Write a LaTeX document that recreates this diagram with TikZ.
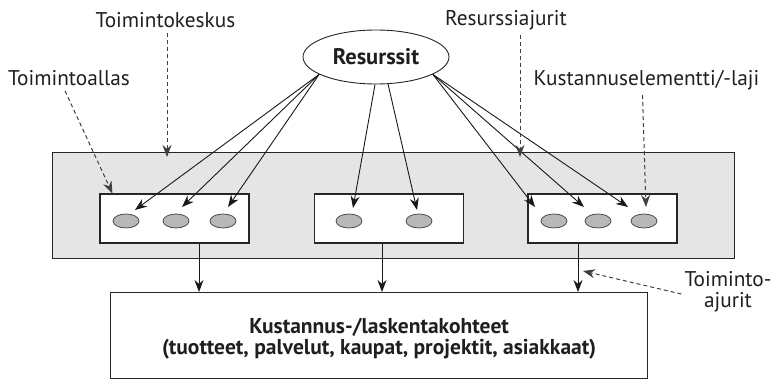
\documentclass[tikz,border=0pt]{standalone}
\usepackage{fontspec}
\setmainfont{PT Sans}
\usetikzlibrary{arrows.meta,shapes.geometric}
\begin{document}
\begin{tikzpicture}[x=1pt,y=-1pt,
  lbl/.style={font=\fontsize{21.3}{21}\selectfont, text=black!88, inner sep=0pt},
  smallell/.style={ellipse, draw=black!70, fill=black!28, minimum width=26pt, minimum height=14pt, inner sep=0pt, line width=0.8pt},
  pool/.style={rectangle, draw=black!85, fill=white, line width=1.2pt, minimum width=149pt, minimum height=49pt, inner sep=0pt},
  arr/.style={-{Stealth[length=12pt,width=9pt]}, line width=0.9pt, draw=black!90},
  darr/.style={-{Stealth[length=12pt,width=9pt]}, line width=1pt, dash pattern=on 4pt off 3pt, draw=black!75},
]
\useasboundingbox (0,0) rectangle (772,379);

% activity centre
\node[rectangle, draw=black!85, fill=black!10, line width=1.2pt, minimum width=682pt, minimum height=106pt, inner sep=0pt, anchor=north west] (centre) at (52,152) {};

% activity pools
\node[pool] (p1) at (174.5,218.5) {};
\node[pool] (p2) at (389,218.5) {};
\node[pool] (p3) at (602.5,218.5) {};

% cost elements
\node[smallell] (e11) at (126,221) {};
\node[smallell] (e12) at (176,221) {};
\node[smallell] (e13) at (223,221) {};
\node[smallell] (e21) at (349,221) {};
\node[smallell] (e22) at (419,221) {};
\node[smallell] (e31) at (554,221) {};
\node[smallell] (e32) at (598,221) {};
\node[smallell] (e33) at (644,221) {};

% resources
\node[ellipse, draw=black!85, fill=white, line width=0.9pt, minimum width=146pt, minimum height=54pt, inner sep=0pt, font=\fontsize{22.5}{22}\selectfont\bfseries, text=black!88] (res) at (376,57) {Resurssit};

% cost objects
\node[rectangle, draw=black!85, fill=white, line width=1.2pt, minimum width=537pt, minimum height=86pt, inner sep=0pt, anchor=north west] (tgt) at (110,292) {};
\node[font=\fontsize{21.5}{20.5}\selectfont\bfseries, text=black!88, align=center, inner sep=0pt] (tgttxt) at ([yshift=-3pt]tgt.center) {Kustannus-/laskentakohteet\\(tuotteet, palvelut, kaupat, projektit, asiakkaat)};

% resource drivers
\draw[arr] (res.197) -- ([xshift=9pt,yshift=11pt]e11.center);
\draw[arr] (res.197) -- ([xshift=6pt,yshift=14pt]e12.center);
\draw[arr] (res.197) -- ([xshift=5pt,yshift=14pt]e13.center);
\draw[arr] (res.268) -- ([xshift=4pt,yshift=13pt]e21.center);
\draw[arr] (res.294) -- ([xshift=-2pt,yshift=11pt]e22.center);
\draw[arr] (res.343) -- ([xshift=-19pt,yshift=14pt]e31.center);
\draw[arr] (res.343) -- ([xshift=-14pt,yshift=14pt]e32.center);
\draw[arr] (res.343) -- ([xshift=-16pt,yshift=14pt]e33.center);

% activity drivers
\draw[arr] ([xshift=24.5pt]p1.south) -- ([xshift=24.5pt]p1.south |- tgt.north);
\draw[arr] ([xshift=-7pt]p2.south) -- ([xshift=-7pt]p2.south |- tgt.north);
\draw[arr] ([xshift=-24.5pt]p3.south) -- ([xshift=-24.5pt]p3.south |- tgt.north);

% labels
\node[lbl] (tk) at (165.5,20) {Toimintokeskus};
\node[lbl] (ta) at (69,78) {Toimintoallas};
\node[lbl] (ra) at (506,20) {Resurssiajurit};
\node[lbl] (ke) at (646.5,80) {Kustannuselementti/-laji};
\node[lbl, align=center] (toa) at (728,292) {Toiminto-\\ajurit};
\coordinate (toatip) at (583,271);

\draw[darr] ([xshift=1.5pt,yshift=-5pt]tk.south) -- ([xshift=1.5pt,yshift=-5pt]tk.south |- centre.north);
\draw[darr] ([xshift=-4pt,yshift=-5pt]ta.south) -- ([xshift=13pt]p1.north west);
\draw[darr] ([xshift=14pt,yshift=-5pt]ra.south) -- ([xshift=14pt,yshift=-5pt]ra.south |- centre.north);
\draw[darr] ([xshift=-4pt,yshift=-5pt]ke.south) -- ([xshift=2pt,yshift=14pt]e33.center);
\draw[darr] ([xshift=-3pt,yshift=-2pt]toa.west) -- (toatip);
\end{tikzpicture}
\end{document}
